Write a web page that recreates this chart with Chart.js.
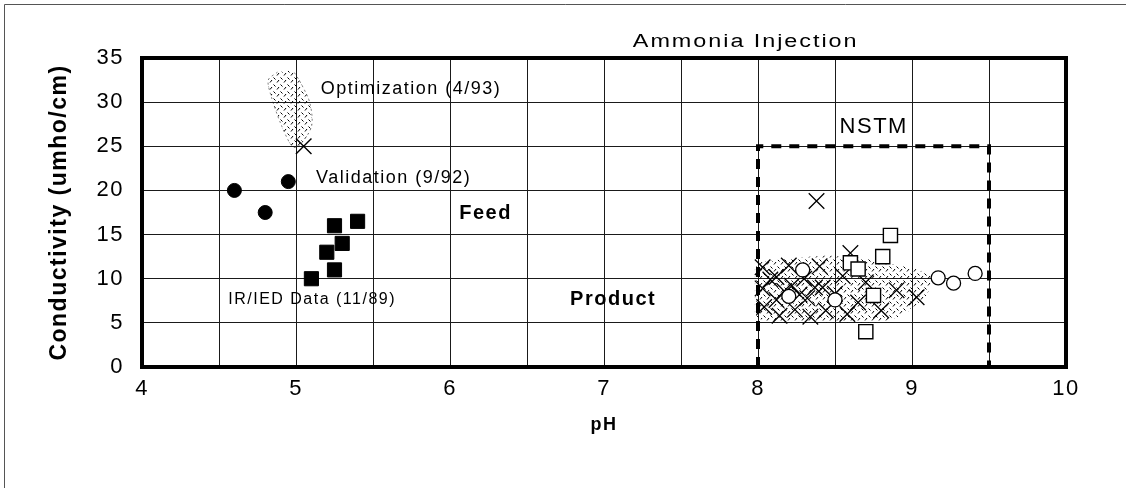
<!DOCTYPE html>
<html>
<head>
<meta charset="utf-8">
<script src="https://cdn.jsdelivr.net/npm/chart.js@4"></script>
<style>
  html, body { margin: 0; padding: 0; background: #fff; }
  #wrap { width: 1126px; height: 488px; }
</style>
</head>
<body>
<div id="wrap"><canvas id="phChart" width="1126" height="488"></canvas></div>
<script>
// ========================================
// DATA (pH vs conductivity)
// ========================================
const validationPH = [4.6, 4.8, 4.95];
const validationCond = [20, 17.5, 21];

const irIedPH = [5.1, 5.2, 5.25, 5.25, 5.3, 5.4];
const irIedCond = [10, 13, 16, 11, 14, 16.5];

const optimizationPH = [5.05];
const optimizationCond = [25];
// outline of the speckled optimization band
const optimizationCloudPH = [4.88, 4.82, 4.84, 4.9, 4.97, 5.01, 5.1, 5.09, 5.03, 4.98];
const optimizationCloudCond = [33.4, 32.5, 30.6, 27.6, 25.1, 24.9, 27.2, 29.9, 32.2, 33.6];

const nstmCrossPH = [8.03, 8.03, 8.04, 8.08, 8.12, 8.12, 8.14, 8.17, 8.2, 8.22, 8.24, 8.27, 8.3,
  8.32, 8.34, 8.37, 8.4, 8.42, 8.44, 8.5, 8.55, 8.58, 8.6, 8.65, 8.7, 8.8, 8.9, 9.03, 8.38];
const nstmCrossCond = [11.3, 8.9, 6.8, 9.9, 10.2, 7.6, 5.8, 8.6, 11.5, 9.2, 6.5, 8.2, 10.0,
  7.8, 5.7, 9.0, 11.4, 9.0, 6.4, 8.3, 10.3, 6.0, 12.9, 7.3, 9.6, 6.4, 8.7, 7.9, 18.8];

const nstmCirclePH = [8.2, 8.29, 8.5, 9.17, 9.27, 9.41];
const nstmCircleCond = [8.0, 11.0, 7.6, 10.1, 9.5, 10.6];

const nstmSquarePH = [8.6, 8.65, 8.75, 8.7, 8.81, 8.86];
const nstmSquareCond = [11.8, 11.1, 8.1, 4.0, 12.5, 14.9];

// outline of the hatched product band
const nstmCloudPH = [7.98, 8.2, 8.45, 8.7, 8.95, 9.12, 9.1, 8.95, 8.8, 8.4, 8.1, 7.98];
const nstmCloudCond = [11.8, 12.3, 12.6, 12.3, 11.4, 10.4, 8.3, 6.0, 5.1, 5.0, 5.0, 5.6];

// NSTM operating window
const nstmBoxPH = [8, 8, 9.5, 9.5];
const nstmBoxCond = [0, 25, 25, 0];

const xTickLabels = [4, 5, 6, 7, 8, 9, 10];
const yTickLabels = [0, 5, 10, 15, 20, 25, 30, 35];

const toPoints = (xs, ys) => xs.map((x, i) => ({ x: x, y: ys[i] }));

// ========================================
// TEXT ANNOTATIONS
// ========================================
const notes = [
  { text: "Optimization (4/93)", x: 5.16, y: 31.5, font: "18px 'Liberation Sans', Arial" },
  { text: "Validation (9/92)", x: 5.13, y: 21.4, font: "18px 'Liberation Sans', Arial" },
  { text: "Feed", x: 6.06, y: 17.4, font: "bold 20px 'Liberation Sans', Arial" },
  { text: "IR/IED Data (11/89)", x: 4.56, y: 7.6, font: "16px 'Liberation Sans', Arial" },
  { text: "Product", x: 6.78, y: 7.6, font: "bold 20px 'Liberation Sans', Arial" },
  { text: "NSTM", x: 8.53, y: 27.2, font: "22px 'Liberation Sans', Arial" },
];

function speckle() {
  const c = document.createElement("canvas");
  c.width = 7;
  c.height = 7;
  const g = c.getContext("2d");
  g.strokeStyle = "#000";
  g.lineWidth = 1;
  g.beginPath();
  g.moveTo(0.5, 0.5);
  g.lineTo(2.5, 2.5);
  g.moveTo(6, 3);
  g.lineTo(4, 5.5);
  g.stroke();
  return g.createPattern(c, "repeat");
}
const hatch = speckle();

const annotate = {
  id: "annotate",
  beforeUpdate(chart) {
    chart.ctx.letterSpacing = "1.5px";
  },
  beforeDraw(chart) {
    const ctx = chart.ctx;
    ctx.letterSpacing = "1.5px";
    // outer frame (left and top only, as in the scan)
    ctx.save();
    ctx.strokeStyle = "#555";
    ctx.lineWidth = 1;
    ctx.beginPath();
    ctx.moveTo(4.5, 488);
    ctx.lineTo(4.5, 4.5);
    ctx.lineTo(1126, 4.5);
    ctx.stroke();
    ctx.restore();
  },
  afterDraw(chart) {
    const ctx = chart.ctx;
    const { x, y } = chart.scales;
    const area = chart.chartArea;
    ctx.save();
    ctx.strokeStyle = "#000";
    ctx.lineWidth = 4;
    ctx.strokeRect(area.left, area.top, area.right - area.left, area.bottom - area.top);

    ctx.fillStyle = "#000";
    ctx.textBaseline = "middle";
    ctx.textAlign = "left";
    notes.forEach((n) => {
      ctx.font = n.font;
      ctx.fillText(n.text, x.getPixelForValue(n.x), y.getPixelForValue(n.y));
    });

    // title, stretched like the original
    ctx.font = "18px 'Liberation Sans', Arial";
    ctx.textAlign = "center";
    ctx.translate(x.getPixelForValue(7.92), area.top - 16);
    ctx.scale(1.3, 1);
    ctx.fillText("Ammonia Injection", 0, 0);
    ctx.restore();
  },
};

Chart.defaults.font.family = "'Liberation Sans', Arial, sans-serif";
Chart.defaults.color = "#000";

const ctx = document.getElementById("phChart");
new Chart(ctx, {
  type: "scatter",
  data: {
    datasets: [
      {
        label: "Validation (9/92)",
        data: toPoints(validationPH, validationCond),
        pointStyle: "circle",
        pointRadius: 7,
        backgroundColor: "#000",
        borderColor: "#000",
        order: 1,
      },
      {
        label: "IR/IED Data (11/89)",
        data: toPoints(irIedPH, irIedCond),
        pointStyle: "rect",
        pointRadius: 10,
        backgroundColor: "#000",
        borderColor: "#000",
        order: 1,
      },
      {
        label: "Optimization (4/93)",
        data: toPoints(optimizationPH, optimizationCond),
        pointStyle: "crossRot",
        pointRadius: 11,
        borderColor: "#000",
        borderWidth: 1.4,
        order: 1,
      },
      {
        label: "NSTM open squares",
        data: toPoints(nstmSquarePH, nstmSquareCond),
        pointStyle: "rect",
        pointRadius: 10,
        backgroundColor: "#fff",
        borderColor: "#000",
        borderWidth: 1.4,
        order: 2,
      },
      {
        label: "NSTM open circles",
        data: toPoints(nstmCirclePH, nstmCircleCond),
        pointStyle: "circle",
        pointRadius: 7,
        backgroundColor: "#fff",
        borderColor: "#000",
        borderWidth: 1.3,
        order: 2,
      },
      {
        label: "NSTM crosses",
        data: toPoints(nstmCrossPH, nstmCrossCond),
        pointStyle: "crossRot",
        pointRadius: 11,
        borderColor: "#000",
        borderWidth: 1.3,
        order: 3,
      },
      {
        label: "Optimization band",
        type: "line",
        data: toPoints(optimizationCloudPH, optimizationCloudCond),
        showLine: true,
        fill: "shape",
        backgroundColor: hatch,
        borderColor: "rgba(0,0,0,0.5)",
        borderWidth: 1,
        borderDash: [2, 3],
        pointRadius: 0,
        tension: 0.3,
        order: 10,
      },
      {
        label: "Product band",
        type: "line",
        data: toPoints(nstmCloudPH, nstmCloudCond),
        showLine: true,
        fill: "shape",
        backgroundColor: hatch,
        borderColor: "rgba(0,0,0,0)",
        pointRadius: 0,
        tension: 0.2,
        order: 10,
      },
      {
        label: "NSTM",
        type: "line",
        data: toPoints(nstmBoxPH, nstmBoxCond),
        showLine: true,
        fill: false,
        borderColor: "#000",
        borderWidth: 4,
        borderDash: [10, 8],
        pointRadius: 0,
        order: 0,
      },
    ],
  },
  options: {
    responsive: false,
    animation: false,
    events: [],
    layout: { padding: { top: 58, right: 60, left: 0, bottom: 0 } },
    plugins: {
      legend: { display: false },
      tooltip: { enabled: false },
    },
    scales: {
      x: {
        type: "linear",
        min: 4,
        max: 10,
        ticks: {
          stepSize: 0.5,
          autoSkip: false,
          maxRotation: 0,
          padding: 9,
          font: { size: 22 },
          callback: (v) => (xTickLabels.includes(v) ? String(v) : ""),
        },
        grid: { color: "#1a1a1a", lineWidth: 1, drawTicks: false },
        border: { display: false },
        title: {
          display: true,
          text: "pH",
          font: { size: 18, weight: "bold" },
          padding: { top: 0, bottom: 52 },
        },
        afterFit(scale) {
          scale.height = 121;
        },
      },
      y: {
        min: 0,
        max: 35,
        ticks: {
          stepSize: 5,
          padding: 18,
          font: { size: 22 },
          callback: (v) => (yTickLabels.includes(v) ? String(v) : ""),
        },
        grid: { color: "#1a1a1a", lineWidth: 1, drawTicks: false },
        border: { display: false },
        title: {
          display: true,
          text: "Conductivity (umho/cm)",
          font: { size: 23, weight: "bold" },
          padding: { top: 46, bottom: 0 },
        },
        afterFit(scale) {
          scale.width = 142;
        },
      },
    },
  },
  plugins: [annotate],
});
</script>
</body>
</html>
